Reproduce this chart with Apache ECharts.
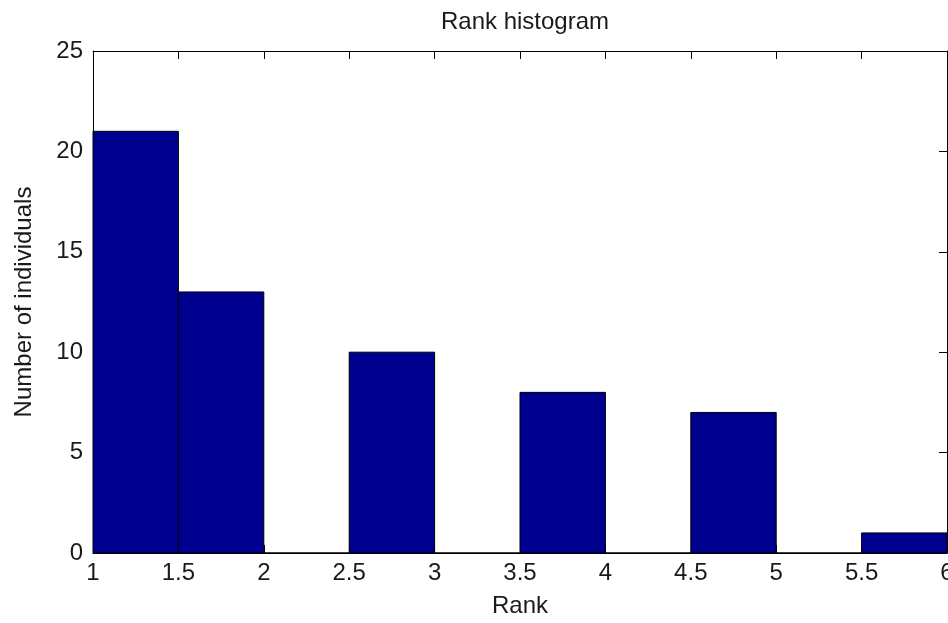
<!DOCTYPE html>
<html>
<head>
<meta charset="utf-8">
<script src="https://cdn.jsdelivr.net/npm/echarts@6/dist/echarts.min.js"></script>
<style>
  html, body { margin: 0; padding: 0; background: #ffffff; }
  #chart { width: 948px; height: 623px; }
</style>
</head>
<body>
<div id="chart"></div>
<script>
// Histogram bins: left edge, right edge, count
const binStarts = [1, 1.5, 2, 2.5, 3, 3.5, 4, 4.5, 5, 5.5];
const binEnds   = [1.5, 2, 2.5, 3, 3.5, 4, 4.5, 5, 5.5, 6];
const counts    = [21, 13, 0, 10, 0, 8, 0, 7, 0, 1];

const xTicks = [1, 1.5, 2, 2.5, 3, 3.5, 4, 4.5, 5, 5.5, 6];
const yTicks = [0, 5, 10, 15, 20, 25];

const titleText = 'Rank histogram';
const xName = 'Rank';
const yName = 'Number of individuals';

const FONT = 'Liberation Sans, Arial, sans-serif';
const TEXT = '#1a1a1a';

const bins = binStarts.map((s, i) => [s, binEnds[i], counts[i]]);

const chart = echarts.init(document.getElementById('chart'), null, { renderer: 'canvas' });

const axisCommon = {
  type: 'value',
  axisLine: { show: true, onZero: false, lineStyle: { color: '#000', width: 1 } },
  axisTick: { show: true, inside: true, length: 8, lineStyle: { color: '#000', width: 1 } },
  splitLine: { show: false }
};

chart.setOption({
  backgroundColor: '#ffffff',
  animation: false,
  title: {
    text: titleText,
    left: 520,
    textAlign: 'center',
    top: 5,
    textStyle: { fontFamily: FONT, fontSize: 24, fontWeight: 'normal', color: TEXT }
  },
  grid: { left: 93, top: 51, right: 1, bottom: 70, containLabel: false, outerBoundsMode: 'none' },
  xAxis: [
    Object.assign({}, axisCommon, {
      position: 'bottom',
      min: xTicks[0], max: xTicks[xTicks.length - 1], interval: 0.5,
      name: xName, nameLocation: 'middle', nameGap: 41,
      nameTextStyle: { fontFamily: FONT, fontSize: 24, color: TEXT },
      axisLabel: { margin: 8, fontFamily: FONT, fontSize: 24, color: TEXT, hideOverlap: false }
    }),
    Object.assign({}, axisCommon, {
      position: 'top',
      min: xTicks[0], max: xTicks[xTicks.length - 1], interval: 0.5,
      axisLabel: { show: false }
    })
  ],
  yAxis: [
    Object.assign({}, axisCommon, {
      position: 'left',
      min: yTicks[0], max: yTicks[yTicks.length - 1], interval: 5,
      name: yName, nameLocation: 'middle', nameGap: 57,
      nameTextStyle: { fontFamily: FONT, fontSize: 24, color: TEXT },
      axisLabel: { margin: 10, fontFamily: FONT, fontSize: 24, color: TEXT }
    }),
    Object.assign({}, axisCommon, {
      position: 'right',
      min: yTicks[0], max: yTicks[yTicks.length - 1], interval: 5,
      axisLabel: { show: false }
    })
  ],
  series: [{
    type: 'custom',
    xAxisIndex: 0,
    yAxisIndex: 0,
    data: bins,
    renderItem: function (params, api) {
      const p0 = api.coord([api.value(0), api.value(2)]);
      const p1 = api.coord([api.value(1), 0]);
      return {
        type: 'rect',
        shape: { x: p0[0], y: p0[1], width: p1[0] - p0[0], height: p1[1] - p0[1] },
        style: { fill: '#00008f', stroke: '#000000', lineWidth: 1 }
      };
    }
  }]
});
</script>
</body>
</html>
